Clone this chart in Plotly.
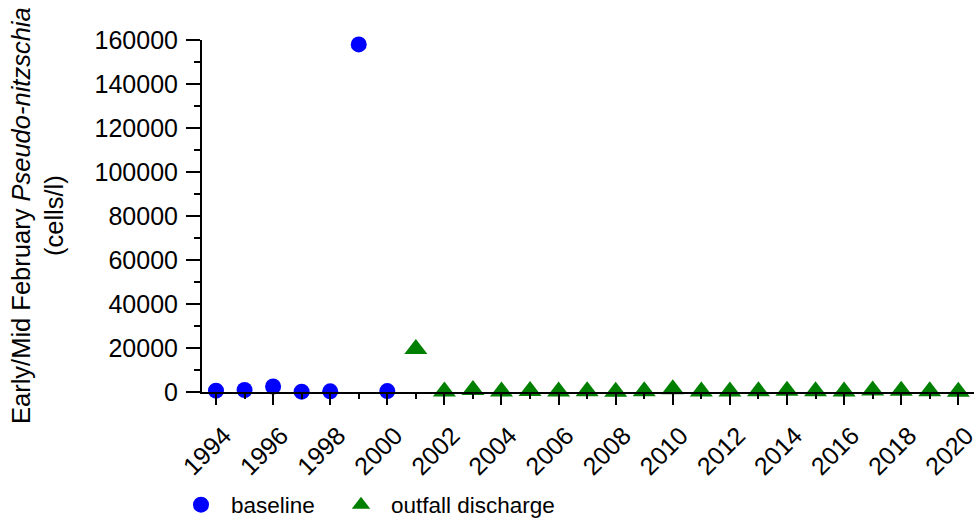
import plotly.graph_objects as go

baseline_years = [1994, 1995, 1996, 1997, 1998, 1999, 2000]
baseline_vals = [600, 900, 2500, 150, 300, 158000, 400]

outfall_years = [2001, 2002, 2003, 2004, 2005, 2006, 2007, 2008, 2009, 2010,
                 2011, 2012, 2013, 2014, 2015, 2016, 2017, 2018, 2019, 2020]
outfall_vals = [19500, 200, 900, 200, 500, 200, 300, 150, 300, 1200,
                200, 200, 300, 600, 300, 200, 700, 600, 300, 150]

FONT = "Liberation Sans, Arial, sans-serif"

fig = go.Figure()
fig.add_trace(go.Scatter(
    x=baseline_years, y=baseline_vals, mode="markers", name="baseline",
    marker=dict(symbol="circle", size=16, color="#0000FF"), cliponaxis=False,
    legend="legend"))
fig.add_trace(go.Scatter(
    x=outfall_years, y=outfall_vals, mode="markers", name="outfall discharge",
    marker=dict(symbol="triangle-up", size=20, color="#008000"), cliponaxis=False,
    legend="legend2"))

leg_common = dict(orientation="h", xref="container", yref="container",
                  xanchor="left", y=1 - 505 / 518, yanchor="middle",
                  font=dict(size=22.5), itemwidth=50, bgcolor="rgba(0,0,0,0)")

fig.update_layout(
    width=974, height=518,
    margin=dict(l=202, r=0, t=40, b=126, autoexpand=False),
    paper_bgcolor="white", plot_bgcolor="white",
    font=dict(family=FONT, size=25, color="black"),
    showlegend=True,
    legend=dict(leg_common, x=171 / 974),
    legend2=dict(leg_common, x=331 / 974),
    xaxis=dict(range=[1993.51, 2020.55], tick0=1994, dtick=2, tickangle=-45,
               showline=True, linecolor="black", linewidth=2,
               ticks="outside", ticklen=11, tickwidth=2, tickcolor="black",
               showgrid=False, zeroline=False, ticklabelstandoff=6, ticklabelshift=8,
               ticklabeloverflow="allow",
               minor=dict(dtick=1, tick0=1994, ticks="outside", ticklen=5, tickwidth=2,
                          tickcolor="black", showgrid=False),
               tickfont=dict(size=25)),
    yaxis=dict(range=[0, 160000], dtick=20000, tickformat="d",
               showline=True, linecolor="black", linewidth=2,
               ticks="outside", ticklen=14, tickwidth=2, tickcolor="black",
               showgrid=False, zeroline=False, ticklabelstandoff=3,
               minor=dict(dtick=10000, ticks="outside", ticklen=6, tickwidth=2,
                          tickcolor="black", showgrid=False),
               tickfont=dict(size=25)),
)

fig.add_annotation(
    xref="paper", yref="paper", x=-(202 - 37) / 772, y=0.5,
    xanchor="center", yanchor="middle", textangle=-90, showarrow=False,
    text="Early/Mid February <i>Pseudo-nitzschia</i><br>(cells/l)",
    font=dict(size=25.5, family=FONT), align="center")

fig.write_html("out.html")
